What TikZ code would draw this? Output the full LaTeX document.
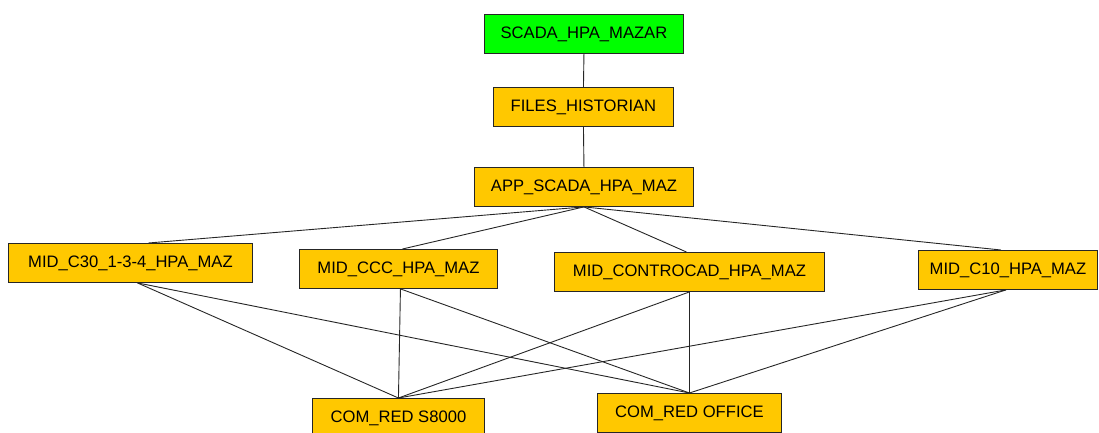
\documentclass[tikz,border=0pt]{standalone}
\usepackage{fontspec}
\setmainfont{Liberation Sans}
\definecolor{boxorange}{RGB}{255,200,0}
\definecolor{boxgreen}{RGB}{0,255,0}
\begin{document}
\begin{tikzpicture}[x=1pt,y=-1pt,
  box/.style={draw=black!85,line width=0.9pt,fill=boxorange,minimum height=39pt,inner sep=0pt,font=\fontsize{16.6}{17}\selectfont,anchor=north west},
  link/.style={draw=black!85,line width=0.9pt}]
\useasboundingbox (0,0) rectangle (1099,433);
\node[box,fill=boxgreen,minimum width=199pt] (scada) at (484,14) {SCADA\_HPA\_MAZAR};
\node[box,minimum width=180pt] (files) at (493,87) {FILES\_HISTORIAN};
\node[box,minimum width=219pt] (app) at (474,167) {APP\_SCADA\_HPA\_MAZ};
\node[box,minimum width=244pt] (c30) at (8,243) {MID\_C30\_1-3-4\_HPA\_MAZ};
\node[box,minimum width=198pt] (ccc) at (299,249) {MID\_CCC\_HPA\_MAZ};
\node[box,minimum width=270pt] (ctrl) at (554,252) {MID\_CONTROCAD\_HPA\_MAZ};
\node[box,minimum width=179pt] (c10) at (918,250) {MID\_C10\_HPA\_MAZ};
\node[box,minimum width=172pt] (s8000) at (312,398) {COM\_RED S8000};
\node[box,minimum width=184pt] (office) at (597,393) {COM\_RED OFFICE};
\draw[link] (scada.south) -- (files.north);
\draw[link] (files.south) -- (app.north);
\draw[link] (app.south) -- ([xshift=18pt]c30.north);
\draw[link] (app.south) -- ([xshift=4pt]ccc.north);
\draw[link] (app.south) -- ([xshift=-3pt]ctrl.north);
\draw[link] (app.south) -- ([xshift=-7pt]c10.north);
\draw[link] ([xshift=7pt]c30.south) -- (s8000.north);
\draw[link] ([xshift=7pt]c30.south) -- (office.north);
\draw[link] ([xshift=2pt]ccc.south) -- (s8000.north);
\draw[link] ([xshift=2pt]ccc.south) -- (office.north);
\draw[link] (ctrl.south) -- (s8000.north);
\draw[link] (ctrl.south) -- (office.north);
\draw[link] ([xshift=-2pt]c10.south) -- (s8000.north);
\draw[link] ([xshift=-2pt]c10.south) -- (office.north);
\end{tikzpicture}
\end{document}
